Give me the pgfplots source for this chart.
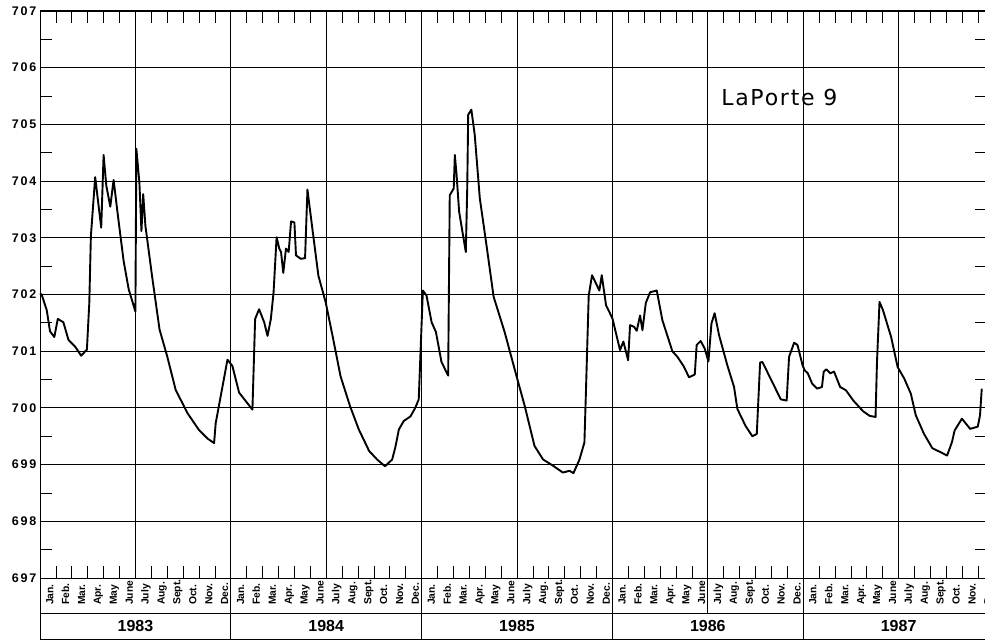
\documentclass[border=0pt]{standalone}
\usepackage{pgfplots}
\pgfplotsset{compat=1.18}
\usepackage{fontspec}
\setmainfont{Liberation Sans}
\newfontfamily\tickfont[LetterSpace=15]{Liberation Sans}
\newfontfamily\titlefont[LetterSpace=8]{DejaVu Sans}
\begin{document}
\begin{tikzpicture}
\begin{axis}[
  name=ax,
  scale only axis,
  width=954pt, height=567pt,
  xmin=0, xmax=60, ymin=697, ymax=707,
  clip=false,
  axis line style={line width=1pt},
  xtick={0,6,...,60},
  xticklabels={},
  minor xtick={1,...,59},
  ytick={697,...,707},
  yticklabels={697,698,699,700,701,702,703,704,705,706,707},
  minor ytick={697.5,698.5,699.5,700.5,701.5,702.5,703.5,704.5,705.5,706.5},
  xmajorgrids, ymajorgrids,
  major grid style={black, line width=0.9pt},
  major tick length=0pt,
  minor tick length=12pt,
  tick style={black, line width=0.8pt},
  tick align=inside,
  y tick label style={font=\tickfont\bfseries\fontsize{12.5}{14}\selectfont, xshift=0pt},
]
\addplot[black, line width=1.9pt, line join=round, mark=none] coordinates {
(0.0,702.02) (0.1,702.0) (0.42,701.73) (0.63,701.35) (0.9,701.25) (1.12,701.57)
(1.47,701.51) (1.79,701.2) (2.21,701.08) (2.59,700.92) (2.95,701.03) (3.1,701.85)
(3.2,703.03) (3.47,704.07) (3.85,703.18) (4.0,704.46) (4.17,703.92) (4.42,703.55)
(4.63,704.02) (4.9,703.39) (5.26,702.59) (5.58,702.09) (6.0,701.70) (6.06,704.57)
(6.25,703.98) (6.38,703.12) (6.49,703.77) (6.63,703.21) (7.05,702.32) (7.52,701.38)
(8.0,700.91) (8.53,700.32) (9.27,699.91) (10.0,699.61) (10.53,699.46) (10.95,699.38)
(11.05,699.73) (11.79,700.85) (12.1,700.74) (12.52,700.27) (12.94,700.12) (13.36,699.97)
(13.53,701.57) (13.78,701.74) (14.1,701.51) (14.31,701.27) (14.52,701.57) (14.69,702.04)
(14.88,703.01) (15.05,702.81) (15.16,702.75) (15.3,702.38) (15.47,702.81) (15.64,702.75)
(15.79,703.29) (16.0,703.27) (16.1,702.69) (16.4,702.63) (16.67,702.64) (16.82,703.85)
(17.13,703.16) (17.51,702.33) (17.97,701.86) (18.4,701.27) (18.9,700.56) (19.5,700.03)
(20.05,699.62) (20.7,699.24) (21.2,699.09) (21.7,698.97) (22.15,699.09) (22.36,699.32)
(22.57,699.62) (22.88,699.77) (23.3,699.85) (23.6,700.0) (23.82,700.15) (24.08,702.07)
(24.31,701.98) (24.63,701.51) (24.9,701.34) (25.25,700.81) (25.67,700.57) (25.77,703.75)
(26.02,703.87) (26.09,704.46) (26.2,704.11) (26.36,703.46) (26.78,702.75) (26.87,703.87)
(26.93,705.17) (27.13,705.26) (27.34,704.82) (27.66,703.70) (28.08,702.87) (28.53,701.96)
(29.22,701.34) (29.96,700.57) (30.48,700.04) (31.1,699.33) (31.64,699.09) (32.27,698.98)
(32.88,698.86) (33.3,698.89) (33.55,698.85) (33.93,699.09) (34.24,699.39) (34.34,700.33)
(34.51,701.98) (34.72,702.34) (35.18,702.07) (35.33,702.34) (35.6,701.81) (36.0,701.58)
(36.48,701.02) (36.69,701.17) (36.99,700.84) (37.11,701.46) (37.36,701.43) (37.53,701.36)
(37.74,701.63) (37.89,701.37) (38.1,701.85) (38.37,702.04) (38.79,702.07) (39.14,701.55)
(39.77,701.0) (40.09,700.9) (40.47,700.74) (40.82,700.54) (41.18,700.59) (41.3,701.11)
(41.55,701.18) (41.8,701.05) (42.04,700.82) (42.23,701.49) (42.43,701.67) (42.71,701.28)
(43.23,700.75) (43.65,700.37) (43.86,699.98) (44.38,699.68) (44.8,699.5) (45.08,699.54)
(45.29,700.80) (45.43,700.81) (45.96,700.51) (46.59,700.15) (46.96,700.13) (47.11,700.90)
(47.43,701.15) (47.64,701.11) (47.96,700.75) (48.1,700.66) (48.29,700.61) (48.56,700.43)
(48.87,700.34) (49.18,700.37) (49.29,700.64) (49.45,700.68) (49.7,700.61) (49.94,700.64)
(50.32,700.37) (50.69,700.31) (51.15,700.13) (51.77,699.94) (52.18,699.86) (52.55,699.84)
(52.64,700.81) (52.8,701.87) (53.01,701.73) (53.53,701.25) (53.94,700.72) (54.35,700.52)
(54.77,700.25) (55.08,699.87) (55.6,699.54) (56.12,699.29) (56.63,699.22) (57.05,699.16)
(57.36,699.40) (57.52,699.60) (57.98,699.81) (58.5,699.63) (58.98,699.67) (59.12,699.87)
(59.23,700.34)
};
\node[font=\titlefont\fontsize{22}{24}\selectfont, inner sep=0pt] at (axis cs:46.5,705.47) {LaPorte 9};
\end{axis}
% right-side minor ticks (visible part at the cropped edge)
\begin{scope}[shift={(ax.south west)}, x=15.9pt, y=56.7pt]
  \foreach \v in {0.5,1.5,...,9.5} \draw[line width=0.8pt] (58.8,\v) -- (59.5,\v);
\end{scope}
\begin{scope}[shift={(ax.south west)}, x=15.9pt, y=1pt]
  \draw[line width=0.9pt] (0,-35) -- (60,-35);
  \draw[line width=0.9pt] (0,-61) -- (60,-61);
  \foreach \x in {0,12,24,36,48} \draw[line width=0.9pt] (\x,0) -- (\x,-61);
  \draw[line width=0.9pt] (42,0) -- (42,-35);
  \foreach \x/\yr in {0/1983,12/1984,24/1985,36/1986,48/1987}{
    \node[font=\bfseries\fontsize{16}{18}\selectfont, inner sep=0pt] at (\x+6,-48) {\yr};
    \foreach[count=\i from 0] \name in {Jan.,Feb.,Mar.,Apr.,May,June,July,Aug.,Sept.,Oct.,Nov.,Dec.}{
      \node[rotate=90, anchor=west, inner sep=0pt, text height=7.5pt, text depth=0pt,
            font=\bfseries\fontsize{10.3}{12}\selectfont] at (\x+\i+0.6,-27) {\name};
    }
  }
\end{scope}
\pgfresetboundingbox
\path[use as bounding box] ([shift={(-40pt,-65pt)}]ax.south west) rectangle ([shift={(-9pt,11pt)}]ax.north east);
\end{tikzpicture}
\end{document}
